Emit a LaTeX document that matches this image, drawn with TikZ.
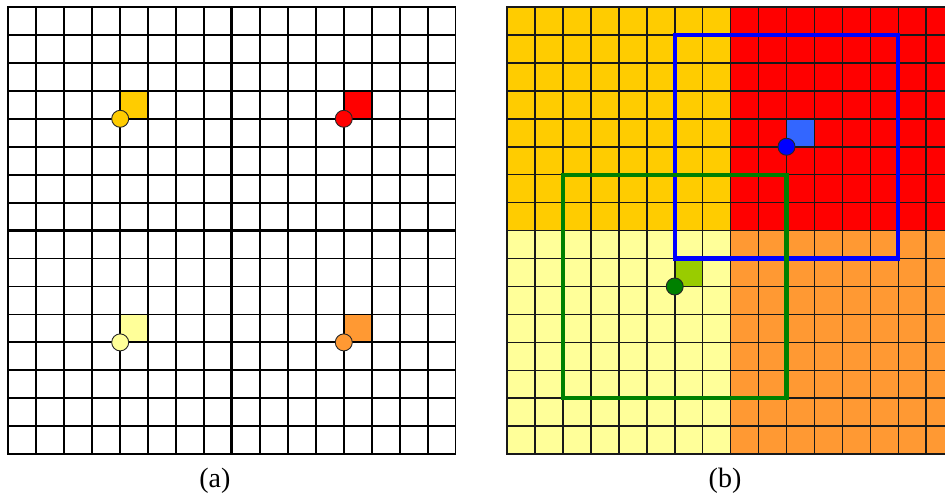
\documentclass[tikz,border=0pt]{standalone}
\usepackage{fontspec}
\setmainfont{Liberation Serif}
\definecolor{goldclr}{RGB}{255,204,0}
\definecolor{redclr}{RGB}{255,0,0}
\definecolor{paleclr}{RGB}{255,255,153}
\definecolor{orngclr}{RGB}{255,153,51}
\definecolor{limeclr}{RGB}{153,204,0}
\definecolor{grnclr}{RGB}{0,128,0}
\definecolor{bluclr}{RGB}{0,0,255}
\definecolor{skyclr}{RGB}{51,102,255}
\tikzset{
  gridline/.style={line width=1.8pt,line cap=rect},
  axisline/.style={line width=3pt},
  dot/.style={circle,draw=black!85,line width=0.9pt,
              minimum size=17pt,inner sep=0pt},
  window/.style={line width=4.3pt},
  caption/.style={font=\fontsize{28}{31}\selectfont,inner sep=0pt},
}

\begin{document}
\begin{tikzpicture}[x=27.95pt,y=-27.95pt]
\useasboundingbox (0,0) rectangle (33.81,17.78);
\clip (0,0) rectangle (33.81,17.78);

% (a) four quadrants, one reference pixel each
\begin{scope}[shift={(0.3,0.25)}]
\fill[goldclr] (4,3) rectangle (5,4);
\fill[redclr]  (12,3) rectangle (13,4);
\fill[paleclr] (4,11) rectangle (5,12);
\fill[orngclr] (12,11) rectangle (13,12);
\foreach \i in {0,...,16}
  \draw[gridline] (\i,0) -- (\i,16) (0,\i) -- (16,\i);
\draw[axisline] (8,0) -- (8,16) (0,8) -- (16,8);
\node[dot,fill=goldclr] (pa1) at (4,4) {};
\node[dot,fill=redclr]  (pa2) at (12,4) {};
\node[dot,fill=paleclr] (pa3) at (4,12) {};
\node[dot,fill=orngclr] (pa4) at (12,12) {};
\end{scope}

% (b) shifted quadrants with two windows
\begin{scope}[shift={(18.14,0.25)}]
\fill[goldclr] (0,0) rectangle (8,8);
\fill[redclr]  (8,0) rectangle (16,8);
\fill[paleclr] (0,8) rectangle (8,16);
\fill[orngclr] (8,8) rectangle (16,16);
\fill[skyclr]  (10,4) rectangle (11,5);
\fill[limeclr] (6,9) rectangle (7,10);
\foreach \i in {0,...,16}
  \draw[gridline,line width=1.6pt,black!90] (\i,0) -- (\i,16) (0,\i) -- (16,\i);
\draw[window,bluclr] (6,1) rectangle (14,9);
\draw[window,grnclr] (2,6) rectangle (10,14);
\node[dot,fill=bluclr] (pb1) at (10,5) {};
\node[dot,fill=grnclr] (pb2) at (6,10) {};
\end{scope}

\node[caption] (capa) at (7.69,17.2) {(a)};
\node[caption] (capb) at (25.94,17.2) {(b)};
\end{tikzpicture}
\end{document}
